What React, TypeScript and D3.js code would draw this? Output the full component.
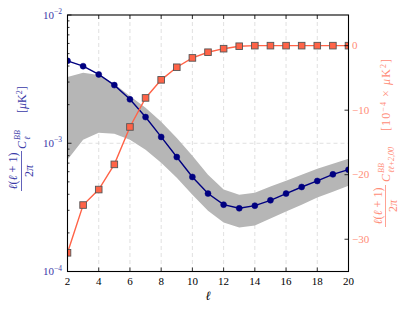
import React from "react";
import * as d3 from "d3";

const ells = [2, 3, 4, 5, 6, 7, 8, 9, 10, 11, 12, 13, 14, 15, 16, 17, 18, 19, 20];
const cbb = [4.39e-3, 3.99e-3, 3.44e-3, 2.84e-3, 2.2e-3, 1.6e-3, 1.12e-3, 7.81e-4, 5.46e-4, 4.05e-4, 3.32e-4, 3.11e-4, 3.26e-4, 3.59e-4, 4.05e-4, 4.56e-4, 5.08e-4, 5.72e-4, 6.22e-4];
const bandUpper = [3.29e-3, 3.54e-3, 3.41e-3, 2.9e-3, 2.34e-3, 1.89e-3, 1.47e-3, 1.1e-3, 7.99e-4, 5.69e-4, 4.35e-4, 3.97e-4, 4.12e-4, 4.59e-4, 5.11e-4, 5.69e-4, 6.33e-4, 6.93e-4, 7.57e-4];
const bandLower = [7.44e-4, 1.065e-3, 1.207e-3, 1.186e-3, 1.065e-3, 8.9e-4, 7.05e-4, 5.39e-4, 3.97e-4, 2.98e-4, 2.41e-4, 2.2e-4, 2.28e-4, 2.59e-4, 2.93e-4, 3.32e-4, 3.77e-4, 4.19e-4, 4.67e-4];
const cross = [-32.1, -24.7, -22.3, -18.4, -12.6, -8.1, -5.3, -3.35, -1.9, -1.02, -0.47, -0.09, 0, 0, 0, 0, 0, 0, 0];

const xTicks = [2, 4, 6, 8, 10, 12, 14, 16, 18, 20];
const leftMajor = [1e-4, 1e-3, 1e-2];
const leftMajorExp = ["−4", "−3", "−2"];
const rightTicks = [0, -10, -20, -30];

const W = 415, H = 312;
const L = 67.5, R = 348.5, T = 15, B = 271.5;
const BLUE = "#000080";
const BLUE_TXT = "#3a3aa8";
const RED = "#ff6347";
const RED_TXT = "#ff8c78";
const FONT = "'Liberation Serif', 'DejaVu Serif', serif";

export default function App() {
  const x = d3.scaleLinear().domain([2, 20]).range([L, R]);
  const yL = d3.scaleLog().domain([1e-4, 1e-2]).range([B, T]);
  const yR = d3.scaleLinear().domain([-35.0, 4.75]).range([B, T]);

  const area = d3
    .area<number>()
    .x((_, i) => x(ells[i]))
    .y0((_, i) => yL(bandLower[i]))
    .y1((_, i) => yL(bandUpper[i]));
  const blueLine = d3
    .line<number>()
    .x((_, i) => x(ells[i]))
    .y((d) => yL(d));
  const redLine = d3
    .line<number>()
    .x((_, i) => x(ells[i]))
    .y((d) => yR(d));

  const minor: number[] = [];
  for (const dec of [1e-4, 1e-3]) for (let k = 2; k <= 9; k++) minor.push(k * dec);

  return (
    <svg width={W} height={H} style={{ position: "absolute", left: 0, top: 0, background: "#fff", fontFamily: FONT }}>
      <defs>
        <clipPath id="plot">
          <rect x={L} y={T} width={R - L} height={B - T} />
        </clipPath>
      </defs>
      {/* grid */}
      <g stroke="#d8d8d8" strokeWidth={0.8} strokeDasharray="4,3">
        {xTicks.slice(1, -1).map((t) => (
          <line key={t} x1={x(t)} x2={x(t)} y1={T} y2={B} />
        ))}
        <line x1={L} x2={R} y1={yL(1e-3)} y2={yL(1e-3)} />
      </g>
      <g clipPath="url(#plot)">
        <path d={area(ells) || ""} fill="#b6b6b6" stroke="none" />
        <path d={blueLine(cbb) || ""} fill="none" stroke={BLUE} strokeWidth={1.4} />
        {cbb.map((v, i) => (
          <circle key={i} cx={x(ells[i])} cy={yL(v)} r={3} fill={BLUE} stroke={BLUE} strokeWidth={0.5} />
        ))}
        <path d={redLine(cross) || ""} fill="none" stroke={RED} strokeWidth={1.4} />
        {cross.map((v, i) => (
          <rect key={i} x={x(ells[i]) - 3.3} y={yR(v) - 3.3} width={6.6} height={6.6} fill={RED} stroke="#555" strokeWidth={0.9} />
        ))}
      </g>
      {/* frame */}
      <rect x={L} y={T} width={R - L} height={B - T} fill="none" stroke="#000" strokeWidth={1.1} />
      {/* ticks */}
      <g stroke="#000" strokeWidth={0.8}>
        {xTicks.map((t) => (
          <g key={t}>
            <line x1={x(t)} x2={x(t)} y1={B} y2={B - 4} />
            <line x1={x(t)} x2={x(t)} y1={T} y2={T + 4} />
          </g>
        ))}
        {leftMajor.map((t) => (
          <line key={t} x1={L} x2={L + 4} y1={yL(t)} y2={yL(t)} />
        ))}
        {minor.map((t) => (
          <line key={t} x1={L} x2={L + 2} y1={yL(t)} y2={yL(t)} />
        ))}
        {rightTicks.map((t) => (
          <line key={t} x1={R} x2={R - 4} y1={yR(t)} y2={yR(t)} />
        ))}
      </g>
      {/* x tick labels */}
      <g fontSize={11} fill="#000" textAnchor="middle">
        {xTicks.map((t) => (
          <text key={t} x={x(t)} y={285}>
            {t}
          </text>
        ))}
      </g>
      <text x={(L + R) / 2} y={300} fontSize={12.5} fontStyle="italic" textAnchor="middle">
        ℓ
      </text>
      {/* left tick labels */}
      <g fill={BLUE_TXT}>
        {leftMajor.map((t, i) => (
          <text key={t} x={62} y={yL(t) + 3.5} fontSize={11} textAnchor="end">
            10
            <tspan dy={-4.5} fontSize={7.5}>
              {leftMajorExp[i]}
            </tspan>
          </text>
        ))}
      </g>
      {/* right tick labels */}
      <g fill={RED_TXT} fontSize={11}>
        {rightTicks.map((t) => (
          <text key={t} x={352} y={yR(t) + 3.7}>
            {t === 0 ? "0" : "−" + Math.abs(t)}
          </text>
        ))}
      </g>
      {/* left axis label */}
      <g transform="rotate(-90)" fill={BLUE_TXT} fontSize={12}>
        <text x={-171} y={17} textAnchor="middle">
          <tspan fontStyle="italic">ℓ</tspan>(<tspan fontStyle="italic">ℓ</tspan> + 1)
        </text>
        <line x1={-191} x2={-151} y1={21.5} y2={21.5} stroke={BLUE_TXT} strokeWidth={0.8} />
        <text x={-171} y={33} textAnchor="middle">
          2<tspan fontStyle="italic">π</tspan>
        </text>
        <text x={-149} y={26} fontStyle="italic">C</text>
        <text x={-140} y={20} fontStyle="italic" fontSize={8}>BB</text>
        <text x={-140} y={29.5} fontStyle="italic" fontSize={8}>ℓ</text>
        <text x={-113} y={26}>
          [<tspan fontStyle="italic">μ</tspan>K<tspan dy={-4.5} fontSize={8}>2</tspan>
          <tspan dy={4.5}>]</tspan>
        </text>
      </g>
      {/* right axis label */}
      <g transform="rotate(-90)" fill={RED_TXT} fontSize={12}>
        <text x={-206} y={382} textAnchor="middle">
          <tspan fontStyle="italic">ℓ</tspan>(<tspan fontStyle="italic">ℓ</tspan> + 1)
        </text>
        <line x1={-227} x2={-185} y1={385.5} y2={385.5} stroke={RED_TXT} strokeWidth={0.8} />
        <text x={-206} y={396.5} textAnchor="middle">
          2<tspan fontStyle="italic">π</tspan>
        </text>
        <text x={-182} y={390} fontStyle="italic">C</text>
        <text x={-173} y={383.5} fontStyle="italic" fontSize={8}>BB</text>
        <text x={-173} y={393.5} fontStyle="italic" fontSize={8}>ℓℓ+2,00</text>
        <text x={-131} y={390} textLength={72} lengthAdjust="spacing">
          [10<tspan dy={-4.5} fontSize={8}>−4</tspan>
          <tspan dy={4.5}> × </tspan>
          <tspan fontStyle="italic">μ</tspan>K<tspan dy={-4.5} fontSize={8}>2</tspan>
          <tspan dy={4.5}>]</tspan>
        </text>
      </g>
    </svg>
  );
}
